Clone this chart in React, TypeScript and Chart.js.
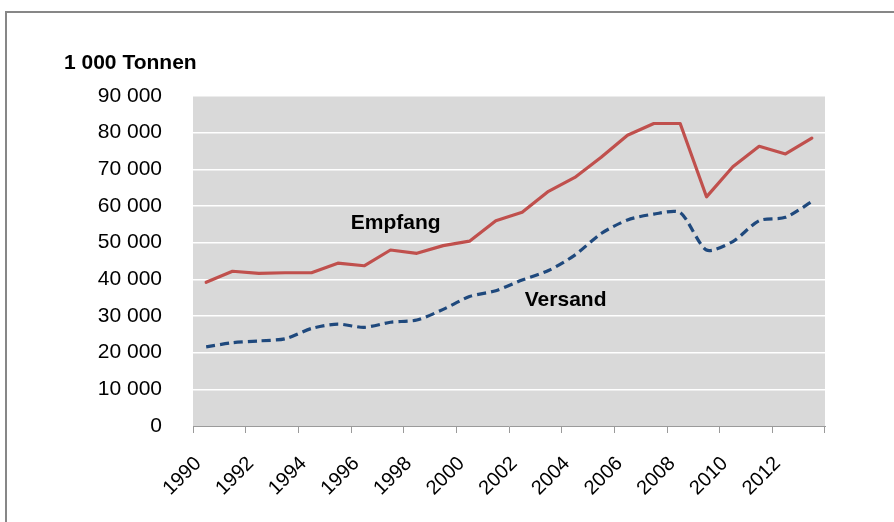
import React, { useEffect, useRef } from 'react';
import { Chart, registerables } from 'chart.js';

Chart.register(...registerables);

const years = ['1990','1991','1992','1993','1994','1995','1996','1997','1998','1999','2000','2001','2002','2003','2004','2005','2006','2007','2008','2009','2010','2011','2012','2013'];
const empfang = [39200,42200,41600,41800,41800,44400,43700,48000,47100,49200,50400,56000,58300,64000,67800,73300,79300,82500,82500,62500,70700,76300,74200,78500];
const versand = [21600,22700,23200,23800,26600,27800,26900,28300,28900,31800,35300,36900,39800,42400,46600,52500,56200,57800,58200,48000,50300,56000,56900,61200];
const yMax = 90000;
const yStep = 10000;
const axisTitle = '1 000 Tonnen';
const seriesNames = ['Empfang', 'Versand'];

const FONT = "'Liberation Sans', Arial, sans-serif";

function fmt(v: number): string {
  return String(v).replace(/\B(?=(\d{3})+(?!\d))/g, ' ');
}

const decorPlugin = {
  id: 'decor',
  beforeDraw(chart: any) {
    const { ctx, chartArea } = chart;
    ctx.save();
    ctx.fillStyle = '#d9d9d9';
    ctx.fillRect(chartArea.left, chartArea.top, chartArea.right - chartArea.left, chartArea.bottom - chartArea.top);
    ctx.restore();
  },
  afterDraw(chart: any) {
    const { ctx, scales } = chart;
    const x = scales.x;
    const y = scales.y;
    ctx.save();
    ctx.fillStyle = '#000';
    ctx.font = `bold 21px ${FONT}`;
    ctx.textAlign = 'left';
    ctx.textBaseline = 'alphabetic';
    ctx.fillText(axisTitle, 64, 69);
    ctx.textAlign = 'center';
    ctx.textBaseline = 'middle';
    ctx.fillText(seriesNames[0], x.getPixelForValue(7.2), y.getPixelForValue(55300));
    ctx.fillText(seriesNames[1], x.getPixelForValue(13.65), y.getPixelForValue(34400));
    ctx.restore();
  },
};

export default function App() {
  const ref = useRef<HTMLCanvasElement | null>(null);
  useEffect(() => {
    if (!ref.current) return;
    const chart = new Chart(ref.current, {
      type: 'line',
      data: {
        labels: years,
        datasets: [
          {
            label: seriesNames[0],
            data: empfang,
            borderColor: '#c0504d',
            borderWidth: 3.2,
            pointRadius: 0,
            tension: 0,
            borderJoinStyle: 'round',
            borderCapStyle: 'round',
          },
          {
            label: seriesNames[1],
            data: versand,
            borderColor: '#1f497d',
            borderWidth: 3.2,
            pointRadius: 0,
            tension: 0.25,
            borderDash: [9, 5],
          },
        ],
      },
      options: {
        animation: false,
        responsive: false,
        maintainAspectRatio: false,
        layout: { padding: { left: 0, top: 96, right: 69, bottom: 0 } },
        plugins: { legend: { display: false }, tooltip: { enabled: false } },
        scales: {
          x: {
            type: 'category',
            offset: true,
            afterFit: (s: any) => { s.height = 96; },
            grid: {
              display: true,
              offset: true,
              drawOnChartArea: false,
              drawTicks: true,
              tickLength: 7,
              color: (c: any) => (c.index === undefined || c.index % 2 === 0 ? '#9a9a9a' : 'rgba(0,0,0,0)'),
              lineWidth: 1,
            },
            border: { display: true, color: '#9a9a9a', width: 1 },
            ticks: {
              autoSkip: false,
              maxRotation: 45,
              minRotation: 45,
              padding: 19,
              labelOffset: -8,
              color: '#000',
              font: { family: FONT, size: 20 },
              callback: (_v: any, i: number) => (i % 2 === 0 ? years[i] : ''),
            },
          },
          y: {
            min: 0,
            max: yMax,
            afterFit: (s: any) => { s.width = 193; },
            grid: {
              color: (c: any) => (c.tick && c.tick.value === 0 ? 'rgba(0,0,0,0)' : '#ffffff'),
              lineWidth: 1.5,
              drawTicks: false,
            },
            border: { display: false },
            ticks: {
              stepSize: yStep,
              padding: 31,
              color: '#000',
              font: { family: FONT, size: 21 },
              callback: (v: any) => fmt(Number(v)),
            },
          },
        },
      },
      plugins: [decorPlugin],
    });
    return () => chart.destroy();
  }, []);

  return (
    <div style={{ position: 'fixed', left: 0, top: 0, width: 894, height: 522, background: '#fff', overflow: 'hidden' }}>
      <div style={{ position: 'absolute', left: 5, top: 11, width: 920, height: 560, borderLeft: '2px solid #878787', borderTop: '2px solid #878787' }} />
      <canvas ref={ref} width={894} height={522} style={{ position: 'absolute', left: 0, top: 0, width: 894, height: 522 }} />
    </div>
  );
}
